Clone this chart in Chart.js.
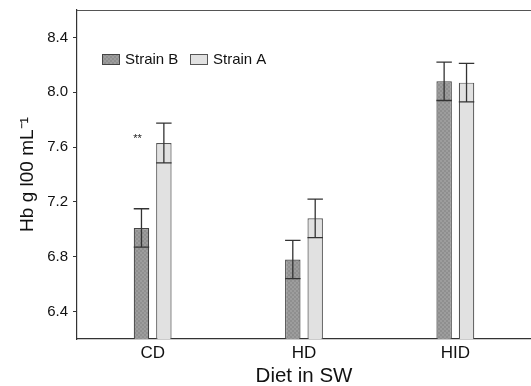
<!DOCTYPE html>
<html>
<head>
<meta charset="utf-8">
<script src="https://cdn.jsdelivr.net/npm/chart.js@4/dist/chart.umd.min.js"></script>
<style>
  body { margin: 0; background: #fff; }
  #wrap { width: 531px; height: 386px; }
</style>
</head>
<body>
<div id="wrap"><canvas id="hbChart" width="531" height="386"></canvas></div>
<script>
// données
const categories = ['CD', 'HD', 'HID'];
const strainB = [7.01, 6.78, 8.08];
const strainA = [7.63, 7.08, 8.07];
const errB = [0.14, 0.14, 0.14];
const errA = [0.145, 0.14, 0.14];
const sigLabels = ['**', '', ''];
const yTicks = [6.4, 6.8, 7.2, 7.6, 8.0, 8.4];

const FONT = '"Liberation Sans", Arial, Helvetica, sans-serif';

// motif quadrillé pour Strain B
function checker() {
    const c = document.createElement('canvas');
    c.width = 4; c.height = 4;
    const g = c.getContext('2d');
    g.fillStyle = '#8f8f8f';
    g.fillRect(0, 0, 4, 4);
    g.fillStyle = '#9d9d9d';
    g.fillRect(0, 0, 2, 2);
    g.fillRect(2, 2, 2, 2);
    return g.createPattern(c, 'repeat');
}
const patternB = checker();

// barres d'erreur + annotation + ligne du haut + légende
const extras = {
    id: 'extras',
    afterDatasetsDraw(chart) {
        const ctx = chart.ctx;
        const y = chart.scales.y;
        const errs = [errB, errA];
        ctx.save();
        ctx.strokeStyle = '#333';
        ctx.lineWidth = 1.3;
        chart.data.datasets.forEach((ds, di) => {
            const meta = chart.getDatasetMeta(di);
            meta.data.forEach((bar, i) => {
                const v = ds.data[i];
                const hi = y.getPixelForValue(v + errs[di][i]);
                const lo = y.getPixelForValue(v - errs[di][i]);
                const half = bar.width / 2;
                ctx.beginPath();
                ctx.moveTo(bar.x, lo); ctx.lineTo(bar.x, hi);
                ctx.moveTo(bar.x - half, hi); ctx.lineTo(bar.x + half, hi);
                ctx.moveTo(bar.x - half, lo); ctx.lineTo(bar.x + half, lo);
                ctx.stroke();
            });
        });
        // ** au-dessus
        const metaB = chart.getDatasetMeta(0);
        ctx.fillStyle = '#222';
        ctx.font = '11px ' + FONT;
        ctx.textAlign = 'center';
        ctx.textBaseline = 'middle';
        sigLabels.forEach((s, i) => {
            if (!s) return;
            const px = metaB.data[i].x - 4;
            const py = y.getPixelForValue(strainA[i]) - 4;
            ctx.fillText(s, px, py);
        });
        // bordure du haut
        const a = chart.chartArea;
        ctx.strokeStyle = '#555';
        ctx.lineWidth = 1.2;
        ctx.beginPath();
        ctx.moveTo(a.left, a.top + 0.5);
        ctx.lineTo(a.right, a.top + 0.5);
        ctx.stroke();
        // légende dans le graphique
        ctx.font = '15px ' + FONT;
        ctx.textAlign = 'left';
        let lx = a.left + 25;
        const ly = a.top + 44;
        chart.data.datasets.forEach((ds) => {
            ctx.fillStyle = ds.backgroundColor;
            ctx.fillRect(lx, ly, 18, 11);
            ctx.strokeStyle = ds.borderColor;
            ctx.lineWidth = 1;
            ctx.strokeRect(lx + 0.5, ly + 0.5, 17, 10);
            ctx.fillStyle = '#111';
            ctx.fillText(ds.label, lx + 23, ly + 6);
            lx += 88;
        });
        ctx.restore();
    }
};

new Chart(document.getElementById('hbChart'), {
    type: 'bar',
    data: {
        labels: categories,
        datasets: [
            {
                label: 'Strain B',
                data: strainB,
                backgroundColor: patternB,
                borderColor: '#444',
                borderWidth: 1.2,
                categoryPercentage: 0.296,
                barPercentage: 0.69
            },
            {
                label: 'Strain A',
                data: strainA,
                backgroundColor: '#e1e1e1',
                borderColor: '#555',
                borderWidth: 1.2,
                categoryPercentage: 0.296,
                barPercentage: 0.69
            }
        ]
    },
    options: {
        responsive: false,
        animation: false,
        layout: { padding: { top: 10, right: 0, left: 0, bottom: 0 } },
        plugins: {
            legend: { display: false },
            tooltip: { enabled: false }
        },
        scales: {
            x: {
                grid: { display: false, tickLength: 0 },
                border: { display: true, color: '#333', width: 1.2 },
                ticks: { color: '#111', font: { family: FONT, size: 17 }, padding: 4 },
                title: {
                    display: true, text: 'Diet in SW', color: '#111',
                    font: { family: FONT, size: 20.5 }, padding: { top: 0, bottom: -3 }
                },
                afterFit(scale) { scale.height = 47; scale.paddingLeft = 0; scale.paddingRight = 0; }
            },
            y: {
                min: 6.2,
                max: 8.6,
                afterBuildTicks(scale) { scale.ticks = yTicks.map(v => ({ value: v })); },
                grid: { drawOnChartArea: false, drawTicks: true, tickLength: 4, color: '#333' },
                border: { display: true, color: '#333', width: 1.2 },
                ticks: {
                    color: '#111', font: { family: FONT, size: 15 }, padding: 5,
                    callback: v => v.toFixed(1)
                },
                title: {
                    display: true, text: 'Hb g l00 mL\u207B\u00B9', color: '#111',
                    font: { family: FONT, size: 19 }, padding: { top: 16, bottom: 0 }
                },
                afterFit(scale) { scale.width = 77; scale.paddingTop = 0; scale.paddingBottom = 0; }
            }
        }
    },
    plugins: [extras]
});
</script>
</body>
</html>
